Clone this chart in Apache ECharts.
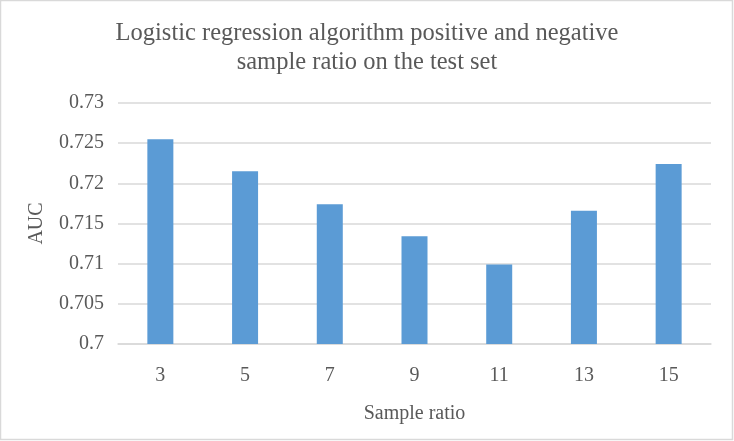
<!DOCTYPE html>
<html>
<head>
<meta charset="utf-8">
<script src="https://cdn.jsdelivr.net/npm/echarts@6/dist/echarts.min.js"></script>
<style>
html,body{margin:0;padding:0;background:#fff;}
#c{width:734px;height:441px;}
</style>
</head>
<body>
<div id="c"></div>
<script>
const titleLines = ['Logistic regression algorithm positive and negative', 'sample ratio on the test set'];
const categories = ['3', '5', '7', '9', '11', '13', '15'];
const aucValues = [0.7255, 0.7215, 0.7174, 0.7134, 0.7099, 0.7166, 0.7224];
const yAxisName = 'AUC';
const xAxisName = 'Sample ratio';
const yMin = 0.7, yMax = 0.73, yInterval = 0.005;

const chart = echarts.init(document.getElementById('c'), null, {renderer: 'canvas'});
const font = '"Liberation Serif", "Times New Roman", serif';
const textColor = '#595959';
chart.setOption({
  animation: false,
  backgroundColor: '#fff',
  title: {
    text: titleLines.join('\n'),
    left: 'center',
    top: 14,
    textStyle: {fontFamily: font, fontSize: 24.5, fontWeight: 'normal', color: textColor, lineHeight: 29}
  },
  graphic: [{
    type: 'rect',
    shape: {x: 0.5, y: 0.5, width: 732, height: 439},
    style: {fill: 'none', stroke: '#d9d9d9', lineWidth: 1.5},
    silent: true
  }],
  grid: {left: 118, right: 23, top: 103, bottom: 97},
  xAxis: {
    type: 'category',
    data: categories,
    name: xAxisName,
    nameLocation: 'middle',
    nameGap: 60,
    nameTextStyle: {fontFamily: font, fontSize: 20, color: textColor},
    axisLine: {lineStyle: {color: '#d9d9d9', width: 1.5}},
    axisTick: {show: false},
    axisLabel: {fontFamily: font, fontSize: 20, color: textColor, margin: 22}
  },
  yAxis: {
    type: 'value',
    min: yMin,
    max: yMax,
    interval: yInterval,
    name: yAxisName,
    nameLocation: 'middle',
    nameGap: 71,
    nameRotate: 90,
    nameTextStyle: {fontFamily: font, fontSize: 20, color: textColor},
    axisLine: {show: false},
    axisTick: {show: false},
    axisLabel: {
      fontFamily: font, fontSize: 20, color: textColor, margin: 14,
      formatter: v => String(parseFloat(v.toFixed(4)))
    },
    splitLine: {lineStyle: {color: '#d9d9d9', width: 1.5}}
  },
  series: [{
    type: 'bar',
    data: aucValues,
    barWidth: 26,
    itemStyle: {color: '#5b9bd5'}
  }]
});
</script>
</body>
</html>
